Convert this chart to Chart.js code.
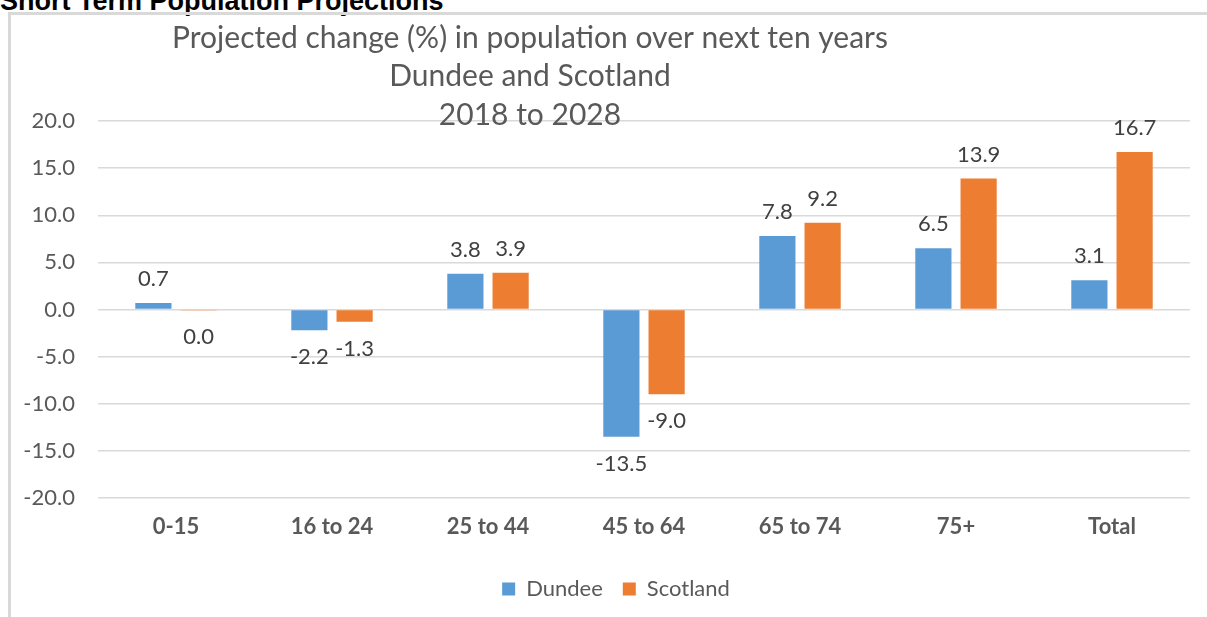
<!DOCTYPE html>
<html>
<head>
<meta charset="utf-8">
<script src="https://cdn.jsdelivr.net/npm/chart.js@4/dist/chart.umd.min.js"></script>
<style>
  html, body { margin: 0; padding: 0; background: #fff; overflow: hidden; }
  #page { position: relative; width: 1207px; height: 617px; }
  #heading {
    position: absolute; left: 0; top: -12px;
    font: bold 27px "Liberation Sans", Arial, sans-serif;
    color: #000; line-height: 27px; white-space: nowrap;
  }
  #frame {
    position: absolute; left: 8px; top: 12px; width: 1220px; height: 620px;
    border-left: 3px solid #d9d9d9; border-top: 3px solid #d9d9d9;
  }
  #wrap { position: absolute; left: 0; top: 0; width: 1207px; height: 617px; }
</style>
</head>
<body>
<div id="page">
  <div id="heading">Short Term Population Projections</div>
  <div id="frame"></div>
  <div id="wrap"><canvas id="chart"></canvas></div>
</div>
<script>
const categories = ['0-15', '16 to 24', '25 to 44', '45 to 64', '65 to 74', '75+', 'Total'];
const dundee = [0.7, -2.2, 3.8, -13.5, 7.8, 6.5, 3.1];
const scotland = [-0.04, -1.3, 3.9, -9.0, 9.2, 13.9, 16.7];
const titleLines = ['Projected change (%) in population over next ten years', 'Dundee and Scotland', '2018 to 2028'];

const FONT = 'Lato, "Open Sans", sans-serif';
const GREY = '#595959';

function fmt(v) {
  return (Math.round(v * 10) / 10 || 0).toFixed(1);
}

const titlePlugin = {
  id: 'overlay-title',
  afterDraw(chart) {
    const { ctx } = chart;
    ctx.save();
    ctx.font = '30px ' + FONT;
    ctx.fillStyle = GREY;
    ctx.textAlign = 'center';
    ctx.textBaseline = 'middle';
    const ys = [38, 76, 115];
    titleLines.forEach((t, i) => ctx.fillText(t, 530, ys[i]));
    ctx.restore();
  }
};

const valueLabels = {
  id: 'value-labels',
  afterDatasetsDraw(chart) {
    const { ctx } = chart;
    ctx.save();
    ctx.font = '22px ' + FONT;
    ctx.fillStyle = '#404040';
    ctx.textAlign = 'center';
    ctx.textBaseline = 'middle';
    chart.data.datasets.forEach((ds, di) => {
      chart.getDatasetMeta(di).data.forEach((bar, i) => {
        const v = ds.data[i];
        const y = v >= 0 ? bar.y - 24 : bar.y + 27;
        ctx.fillText(fmt(v), bar.x, y);
      });
    });
    ctx.restore();
  }
};

// legend in the reference sits a little right of the canvas centre
const legendShift = {
  id: 'legend-shift',
  afterLayout(chart) {
    chart.legend.left += 21;
    chart.legend.right += 21;
  }
};

new Chart(document.getElementById('chart'), {
  type: 'bar',
  data: {
    labels: categories,
    datasets: [
      { label: 'Dundee', data: dundee, backgroundColor: '#5B9BD5' },
      { label: 'Scotland', data: scotland, backgroundColor: '#ED7D31' }
    ]
  },
  options: {
    responsive: true,
    maintainAspectRatio: false,
    animation: false,
    categoryPercentage: 0.58,
    barPercentage: 0.8,
    layout: { padding: { left: 0, top: 121, right: 17, bottom: 7 } },
    plugins: {
      legend: {
        position: 'bottom',
        labels: {
          boxWidth: 13, boxHeight: 13, padding: 20,
          color: GREY, font: { family: FONT, size: 22 }
        }
      },
      tooltip: { enabled: false }
    },
    scales: {
      x: {
        grid: { display: false, drawTicks: false },
        border: { display: false },
        ticks: { color: GREY, padding: 16, font: { family: FONT, size: 22, weight: 'bold' } },
        afterFit(scale) { scale.height = 60; }
      },
      y: {
        min: -20, max: 20,
        grid: { color: '#d9d9d9', lineWidth: 1.5, drawTicks: false },
        border: { display: false },
        ticks: {
          stepSize: 5, color: GREY, padding: 23,
          font: { family: FONT, size: 22 },
          callback(v) { return fmt(v); }
        },
        afterFit(scale) { scale.width = 98; }
      }
    }
  },
  plugins: [titlePlugin, valueLabels, legendShift]
});
</script>
</body>
</html>
